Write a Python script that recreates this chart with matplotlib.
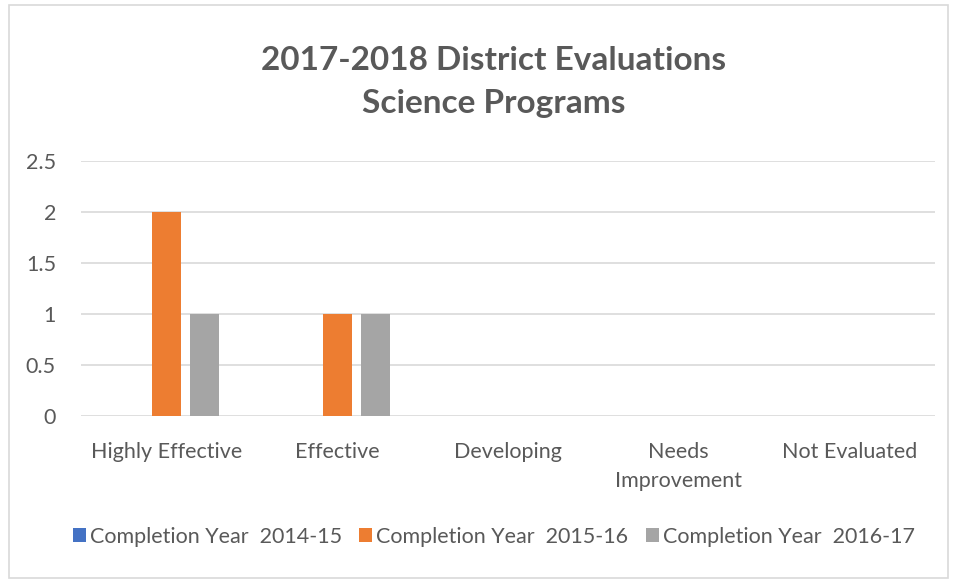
import matplotlib
matplotlib.use("Agg")
import matplotlib.pyplot as plt
from matplotlib.patches import Rectangle
import numpy as np

categories = ["Highly Effective", "Effective", "Developing", "Needs\nImprovement", "Not Evaluated"]
series_names = ["Completion Year  2014-15", "Completion Year  2015-16", "Completion Year  2016-17"]
y_2014_15 = [0, 0, 0, 0, 0]
y_2015_16 = [2, 1, 0, 0, 0]
y_2016_17 = [1, 1, 0, 0, 0]
colors = ["#4472C4", "#ED7D31", "#A5A5A5"]

plt.rcParams['font.family'] = ['Lato', 'DejaVu Sans']
txt = "#595959"

fig = plt.figure(figsize=(9.57, 5.81), dpi=100)
ax = fig.add_axes([0.0846, 0.284, 0.8924, 0.439])

x = np.arange(len(categories))
w = 0.17
off = 0.222
for i, vals in enumerate([y_2014_15, y_2015_16, y_2016_17]):
    ax.bar(x + (i - 1) * off, vals, w, color=colors[i], label=series_names[i], zorder=3)

ax.set_xlim(-0.5, len(categories) - 0.5)
ax.set_ylim(0, 2.5)
ax.set_yticks([0, 0.5, 1, 1.5, 2, 2.5])
ax.set_yticklabels(["0", "0.5", "1", "1.5", "2", "2.5"])
ax.set_xticks(x)
ax.set_xticklabels(categories, linespacing=1.55)
ax.tick_params(axis='both', length=0, labelsize=15.5, colors=txt)
ax.tick_params(axis='x', pad=19)
ax.tick_params(axis='y', pad=18)
ax.grid(axis='y', color="#d9d9d9", linewidth=1.2, zorder=0)
for s in ax.spines.values():
    s.set_visible(False)

fig.text(0.516, 0.859, "2017-2018 District Evaluations\nScience Programs", ha='center', va='center',
         fontsize=24, fontweight='bold', color=txt, linespacing=1.55)

fig.legend(loc='center', bbox_to_anchor=(0.516, 0.076), ncol=3, frameon=False, fontsize=15.5,
           labelcolor=txt, handlelength=0.6, handleheight=0.6, handletextpad=0.2, columnspacing=0.8)

fig.patches.append(Rectangle((9 / 957, 3 / 581), 939 / 957, 573 / 581, transform=fig.transFigure,
                             fill=False, edgecolor="#d9d9d9", linewidth=1.2))

fig.savefig("out.png", dpi=100)
